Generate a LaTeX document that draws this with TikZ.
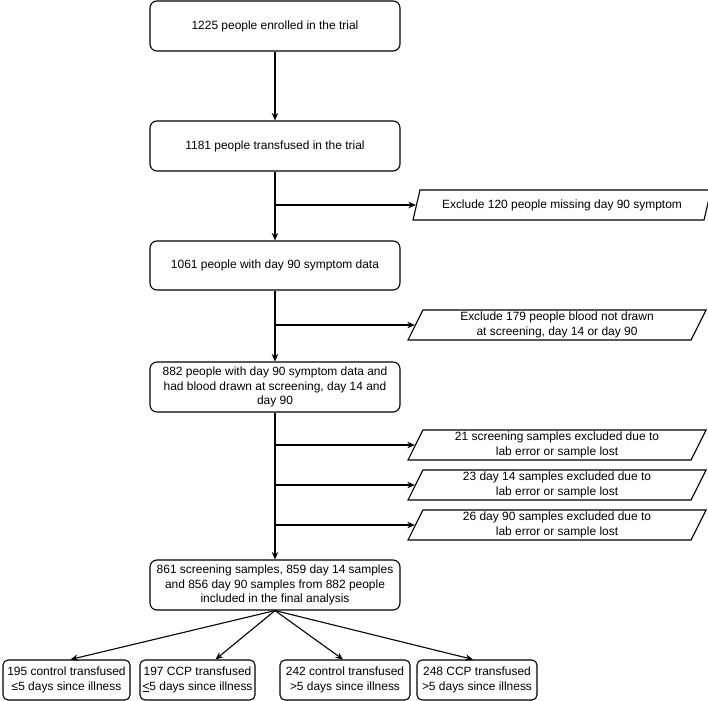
\documentclass[tikz,border=0pt]{standalone}
\usepackage{fontspec}
\setmainfont{Liberation Sans}
\usetikzlibrary{arrows.meta,positioning,calc,shapes.geometric}

\begin{document}
\begin{tikzpicture}[
  x=1bp, y=-1bp, >={Stealth[length=7.5bp,width=6.5bp]}, line width=1.1bp,
  font=\fontsize{12}{14.4}\selectfont,
  flow/.style={draw, rounded corners=7bp, align=center, inner sep=2pt, minimum width=250bp, minimum height=50bp},
  arm/.style={draw, rounded corners=5bp, align=center, inner sep=1.5bp, minimum height=40bp},
  excl/.style={draw, trapezium, trapezium left angle=62, trapezium right angle=118, trapezium stretches body,
    align=center, inner sep=1bp, minimum width=298bp, minimum height=30bp, font=\fontsize{12}{15}\selectfont},
]
\useasboundingbox[fill=white] (0,0) rectangle (708,701);

\node[flow] (enrol) at (275,26) {1225 people enrolled in the trial};
\node[flow] (transf) at (275,146) {1181 people transfused in the trial};
\node[flow, minimum height=49bp] (sympt) at (275,265.5) {1061 people with day 90 symptom data};
\node[flow] (blood) at (275,387) {882 people with day 90 symptom data and\\ had blood drawn at screening, day 14 and\\ day 90};
\node[flow] (final) at (275,585) {861 screening samples, 859 day 14 samples\\ and 856 day 90 samples from 882 people\\ included in the final analysis};

\node[excl] (miss) at (562,205) {Exclude 120 people missing day 90 symptom};
\node[excl] (noblood) at (557,325) {Exclude 179 people blood not drawn\\ at screening, day 14 or day 90};
\node[excl] (lostscr) at (557,445) {21 screening samples excluded due to\\ lab error or sample lost};
\node[excl] (lostd14) at (557,485) {23 day 14 samples excluded due to\\ lab error or sample lost};
\node[excl] (lostd90) at (557,525) {26 day 90 samples excluded due to\\ lab error or sample lost};

\node[arm, minimum width=127bp] (ctlearly) at (66.5,680) {195 control transfused\\ ≤5 days since illness};
\node[arm, minimum width=115bp] (ccpearly) at (197.5,680) {197 CCP transfused\\ \underline{<}5 days since illness};
\node[arm, minimum width=130bp] (ctllate) at (345,680) {242 control transfused\\ >5 days since illness};
\node[arm, minimum width=120bp] (ccplate) at (477,680) {248 CCP transfused\\ >5 days since illness};

\draw[->] (enrol) -- (transf);
\draw[->] (transf) -- (sympt);
\draw[->] (sympt) -- (blood);
\draw[->] (blood) -- (final);

\draw[->] (transf.south |- miss.west) -- (miss.west);
\draw[->] (sympt.south |- noblood.west) -- (noblood.west);
\draw[->] (blood.south |- lostscr.west) -- (lostscr.west);
\draw[->] (blood.south |- lostd14.west) -- (lostd14.west);
\draw[->] (blood.south |- lostd90.west) -- (lostd90.west);

\draw[->] (final.south) -- ([xshift=4bp]ctlearly.north);
\draw[->] (final.south) -- ([xshift=18bp]ccpearly.north);
\draw[->] (final.south) -- ([xshift=-2bp]ctllate.north);
\draw[->] (final.south) -- ([xshift=-4bp]ccplate.north);
\end{tikzpicture}
\end{document}
